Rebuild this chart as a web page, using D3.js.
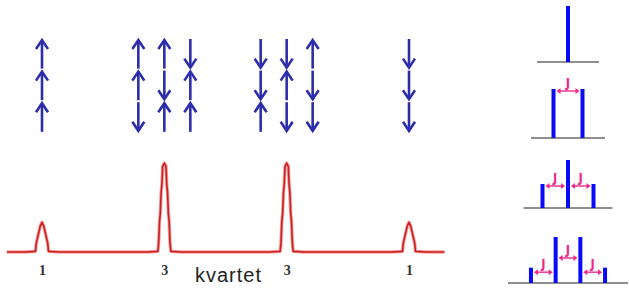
<!DOCTYPE html>
<head>
  <meta charset="utf-8">
  <script src="https://d3js.org/d3.v7.min.js"></script>
  <style>
    body { margin: 0; background: #fff; }
    svg { display: block; }
    .num { font-family: "Liberation Serif", "DejaVu Serif", serif; font-size: 14px; font-weight: bold; fill: #333; }
    .title { font-family: "Liberation Sans", Arial, sans-serif; font-size: 20px; fill: #222; letter-spacing: 1px; }
    .jlab { font-family: "DejaVu Sans", sans-serif; font-size: 11.5px; font-weight: bold; fill: #f0288c; }
  </style>
</head>
<body>
  <svg width="629" height="289"></svg>
  <script>
    // spectrum peaks (quartet 1:3:3:1)
    var peakPos = [0, 1, 2, 3];
    var peakInt = [1, 3, 3, 1];
    var peakLabels = ['1', '3', '3', '1'];
    // spin states of the three neighbours, one string per column, top to bottom
    var spinGroups = [
      ['uuu'],
      ['uud', 'udu', 'duu'],
      ['ddu', 'dud', 'udd'],
      ['ddd']
    ];
    // stick multiplets on the right
    var multNames = ['singlet', 'doublet', 'triplet', 'kvartet'];
    var multInts = [[1], [1, 1], [1, 2, 1], [1, 3, 3, 1]];

    var svg = d3.select('svg');
    var blue = '#2d2dac', red = '#cc1f1f', pink = '#f0288c';

    // ---- left: spectrum ----
    var x = d3.scaleLinear().domain([0, 3]).range([42, 409]);
    var y = d3.scaleLinear().domain([0, 3]).range([252, 163]);

    function peakPoints(cx, n) {
      var left = [[cx - 17, 0]];
      for (var k = 0; k < n; k++) {
        var w = 6.5 * (1 - k / (n + 0.9));
        left.push([cx - w, k + 0.02]);
        left.push([cx - w + 0.8, k + 0.3]);
      }
      left.push([cx - 1.7, n - 0.12]);
      var right = left.slice().reverse().map(function(p) { return [2 * cx - p[0], p[1]]; });
      return left.concat([[cx, n]]).concat(right);
    }
    var pts = [[x(-0.287), 0]];
    peakPos.forEach(function(p, i) {
      pts = pts.concat(peakPoints(x(p), peakInt[i]));
    });
    pts.push([x(3.29), 0]);
    var line = d3.line().x(function(d) { return d[0]; }).y(function(d) { return y(d[1]); });

    svg.append('path').attr('d', line(pts)).attr('fill', 'none')
      .attr('stroke', '#f2a0a0').attr('stroke-width', 3.4).attr('stroke-linejoin', 'round');
    svg.append('path').attr('d', line(pts)).attr('fill', 'none')
      .attr('stroke', red).attr('stroke-width', 1.6).attr('stroke-linejoin', 'round');

    svg.selectAll('text.num').data(peakLabels).enter().append('text')
      .attr('class', 'num')
      .attr('x', function(d, i) { return x(peakPos[i]) + 0.5; })
      .attr('y', 275)
      .attr('text-anchor', 'middle')
      .text(function(d) { return d; });

    svg.append('text').attr('class', 'title')
      .attr('x', 195).attr('y', 282).text('kvartet');

    // spin arrows
    var colGap = 26, slotTop = 38, slotH = 31.6;
    var arrows = [];
    spinGroups.forEach(function(cols, g) {
      cols.forEach(function(s, c) {
        var cx = x(peakPos[g]) + (c - (cols.length - 1) / 2) * colGap;
        s.split('').forEach(function(dir, r) {
          arrows.push({ x: cx, top: slotTop + r * slotH, up: dir === 'u' });
        });
      });
    });
    var ag = svg.append('g').attr('stroke', blue).attr('fill', 'none')
      .attr('stroke-width', 2.6).attr('stroke-linecap', 'butt');
    arrows.forEach(function(a) {
      var tip = a.up ? a.top + 2 : a.top + slotH - 2;
      var tail = a.up ? a.top + slotH - 1 : a.top + 1;
      var s = a.up ? 1 : -1;
      ag.append('line').attr('x1', a.x).attr('x2', a.x).attr('y1', tail).attr('y2', tip + s * 2);
      ag.append('path')
        .attr('d', 'M' + (a.x - 6) + ',' + (tip + s * 9) + 'L' + a.x + ',' + tip + 'L' + (a.x + 6) + ',' + (tip + s * 9))
        .attr('stroke-linejoin', 'miter');
    });

    // ---- right: stick multiplets ----
    var rx = 568;
    var bases = [62, 138, 208, 283];
    var heights = [56, 49, 48, 46];
    var gaps = [0, 29, 25.5, 24.7];
    var baseHalf = [31, 37, 44.5, 60];

    multInts.forEach(function(ints, m) {
      var g = svg.append('g');
      var ys = d3.scaleLinear().domain([0, d3.max(ints)]).range([bases[m], bases[m] - heights[m]]);
      var xs = d3.scaleLinear().domain([0, ints.length - 1 || 1])
        .range([rx - gaps[m] * (ints.length - 1) / 2, rx + gaps[m] * (ints.length - 1) / 2]);
      g.append('line')
        .attr('x1', rx - baseHalf[m]).attr('x2', rx + baseHalf[m])
        .attr('y1', bases[m]).attr('y2', bases[m])
        .attr('stroke', '#6a6a6a').attr('stroke-width', 1.6);
      g.selectAll('rect').data(ints).enter().append('rect')
        .attr('x', function(d, i) { return (ints.length > 1 ? xs(i) : rx) - 2; })
        .attr('width', 4)
        .attr('y', function(d) { return ys(d); })
        .attr('height', function(d) { return bases[m] - ys(d); })
        .attr('fill', '#0a0af5');

      // J arrows between neighbouring lines
      for (var i = 0; i + 1 < ints.length; i++) {
        var x1 = xs(i) + 3, x2 = xs(i + 1) - 3;
        var lvl = Math.min(ints[i], ints[i + 1]);
        var ay = ys(lvl) + (ints.length === 4 ? (lvl === 1 ? 4.5 : 21) : 2);
        g.append('line').attr('x1', x1 + 3).attr('x2', x2 - 3).attr('y1', ay).attr('y2', ay)
          .attr('stroke', pink).attr('stroke-width', 1.4);
        g.append('path').attr('fill', pink)
          .attr('d', 'M' + x1 + ',' + ay + 'l4,-3v6z' + 'M' + x2 + ',' + ay + 'l-4,-3v6z');
        g.append('text').attr('class', 'jlab')
          .attr('x', (x1 + x2) / 2).attr('y', ay - 4).attr('text-anchor', 'middle').text('J');
      }
    });
  </script>
</body>
